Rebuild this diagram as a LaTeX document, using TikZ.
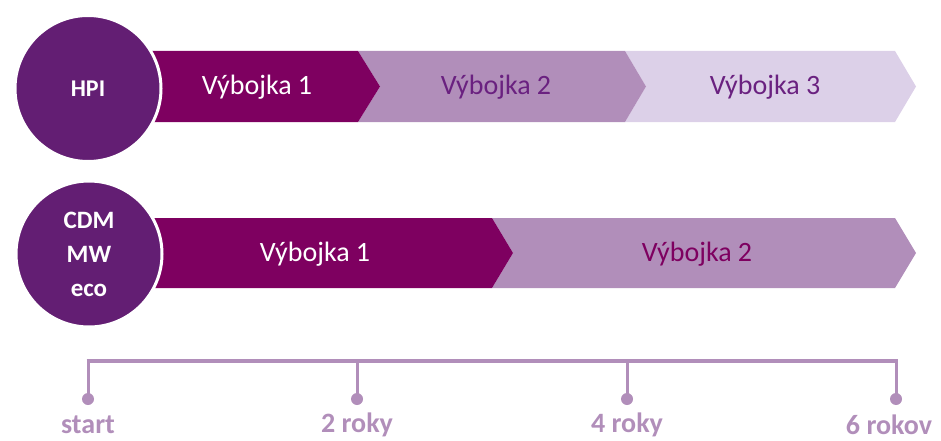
\documentclass[tikz,border=0pt]{standalone}
\usepackage{fontspec}
\setmainfont{Carlito}
\definecolor{circpurple}{RGB}{99,30,115}
\definecolor{segdark}{RGB}{126,0,96}
\definecolor{segmid}{RGB}{177,142,186}
\definecolor{seglight}{RGB}{220,208,232}
\definecolor{txtpurple}{RGB}{106,33,128}
\begin{document}
\begin{tikzpicture}[x=1pt,y=-1pt,
  bigcirc/.style={circle,fill=circpurple,draw=white,line width=3pt,minimum size=146pt,inner sep=0pt,
    text=white,font=\fontsize{25}{34}\selectfont\bfseries,align=center},
  segtext/.style={font=\fontsize{28}{34}\selectfont,inner sep=0pt},
  tline/.style={segmid,line width=4.5pt},
  ttick/.style={segmid,line width=3pt},
  tdot/.style={circle,fill=segmid,minimum size=12pt,inner sep=0pt},
  tlabel/.style={text=segmid,font=\fontsize{28}{32}\selectfont\bfseries,inner sep=0pt}]
\useasboundingbox (0,0) rectangle (941,441);
% row 1 segments
\fill[seglight] (625,51) -- (895,51) -- (916,86.5) -- (895,122) -- (625,122) -- (646,86.5) -- cycle;
\fill[segmid] (358,51) -- (625,51) -- (646,86.5) -- (625,122) -- (358,122) -- (380,86.5) -- cycle;
\fill[segdark] (150,51) -- (358,51) -- (380,86.5) -- (358,122) -- (150,122) -- cycle;
\node[segtext,text=white] (r1a) at (257,87) {Výbojka 1};
\node[segtext,text=txtpurple] (r1b) at (496,87) {Výbojka 2};
\node[segtext,text=txtpurple] (r1c) at (765,87) {Výbojka 3};
\node[bigcirc] (hpi) at (88,88.5) {\fontsize{24}{30}\selectfont HPI};
% row 2 segments
\fill[segmid] (492,218) -- (895,218) -- (916,253) -- (895,288) -- (492,288) -- (513,253) -- cycle;
\fill[segdark] (150,218) -- (492,218) -- (513,253) -- (492,288) -- (150,288) -- cycle;
\node[segtext,text=white] (r2a) at (315,254) {Výbojka 1};
\node[segtext,text=segdark] (r2b) at (697,254) {Výbojka 2};
\node[bigcirc] (cdm) at (89,254) {CDM\\MW\\eco};
% timeline
\coordinate (t0) at (88,361);
\coordinate (t1) at (357,361);
\coordinate (t2) at (627,361);
\coordinate (t3) at (896,361);
\draw[tline] ([xshift=-1.5pt]t0) -- ([xshift=1.5pt]t3);
\node[tdot] (d0) at (88,399) {};
\node[tdot] (d1) at (357,399) {};
\node[tdot] (d2) at (627,399) {};
\node[tdot] (d3) at (896,399) {};
\draw[ttick] (t0) -- (d0.center);
\draw[ttick] (t1) -- (d1.center);
\draw[ttick] (t2) -- (d2.center);
\draw[ttick] (t3) -- (d3.center);
\node[tlabel] (l0) at (88,425) {start};
\node[tlabel] (l1) at (357,425) {2 roky};
\node[tlabel] (l2) at (627,425) {4 roky};
\node[tlabel] (l3) at (889,425) {6 rokov};
\end{tikzpicture}
\end{document}
